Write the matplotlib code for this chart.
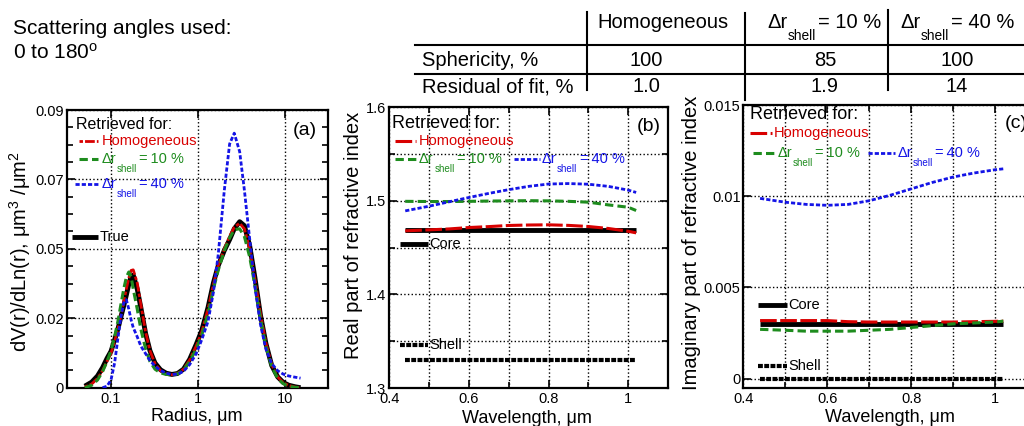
import numpy as np
import matplotlib
matplotlib.use("Agg")
import matplotlib.pyplot as plt
from matplotlib.lines import Line2D
from matplotlib.text import Annotation
from matplotlib.ticker import FixedLocator, MultipleLocator, NullLocator, FuncFormatter

plt.rcParams['font.family'] = ['Liberation Sans', 'DejaVu Sans']
plt.rcParams['mathtext.fontset'] = 'custom'
plt.rcParams['mathtext.rm'] = 'Liberation Sans'
plt.rcParams['mathtext.it'] = 'Liberation Sans:italic'
plt.rcParams['mathtext.bf'] = 'Liberation Sans:bold'
plt.rcParams['lines.scale_dashes'] = False

# ---------------- data ----------------
radius = [0.05, 0.06, 0.07, 0.08, 0.09, 0.1, 0.11, 0.12, 0.13, 0.14, 0.15, 0.16,
          0.17, 0.18, 0.2, 0.22, 0.25, 0.28, 0.32, 0.37, 0.43, 0.5, 0.58, 0.68,
          0.8, 0.95, 1.1, 1.3, 1.5, 1.7, 2.0, 2.3, 2.6, 3.0, 3.4, 3.9, 4.5, 5.2,
          6.0, 7.0, 8.2, 9.5, 11, 13, 15]
psd_true = [0.0005, 0.0018, 0.0038, 0.0065, 0.0095, 0.0118, 0.0155, 0.019, 0.023,
            0.0265, 0.030, 0.0335, 0.036, 0.0365, 0.032, 0.026, 0.0175, 0.012,
            0.008, 0.0058, 0.0047, 0.0043, 0.0046, 0.006, 0.0092, 0.014, 0.0185,
            0.026, 0.034, 0.0395, 0.0445, 0.048, 0.0515, 0.0538, 0.0525, 0.0462,
            0.0355, 0.0235, 0.0144, 0.0072, 0.0035, 0.0017, 0.0008, 0.0003, 0.0]
psd_hom = [0.0002, 0.0012, 0.003, 0.0055, 0.0085, 0.0112, 0.015, 0.019, 0.0235,
           0.028, 0.032, 0.0355, 0.038, 0.0382, 0.034, 0.027, 0.018, 0.012,
           0.0078, 0.0055, 0.0045, 0.0042, 0.0046, 0.006, 0.009, 0.0135, 0.018,
           0.0255, 0.0335, 0.0395, 0.045, 0.049, 0.052, 0.0533, 0.0515, 0.045,
           0.035, 0.024, 0.0145, 0.0075, 0.0035, 0.0016, 0.0007, 0.0002, 0.0]
psd_10 = [0.0, 0.0008, 0.0025, 0.0052, 0.0085, 0.012, 0.0165, 0.0215, 0.027,
          0.032, 0.0358, 0.0375, 0.036, 0.032, 0.0255, 0.019, 0.0125, 0.0085,
          0.006, 0.0048, 0.0043, 0.0042, 0.0045, 0.0057, 0.0085, 0.0125, 0.017,
          0.024, 0.032, 0.038, 0.0445, 0.0485, 0.0512, 0.0515, 0.049, 0.0425,
          0.033, 0.0225, 0.0135, 0.0068, 0.003, 0.0013, 0.0005, 0.0001, 0.0]
psd_40 = [np.nan, np.nan, np.nan, 0.0, 0.0005, 0.0025, 0.008, 0.016, 0.023, 0.0275,
          0.0285, 0.0255, 0.022, 0.0195, 0.0165, 0.0135, 0.011, 0.0088, 0.007,
          0.0056, 0.0047, 0.0043, 0.0044, 0.0053, 0.0075, 0.011, 0.0155, 0.0215,
          0.031, 0.043, 0.064, 0.079, 0.0825, 0.0765, 0.064, 0.0485, 0.0325,
          0.0205, 0.0125, 0.0078, 0.0055, 0.0044, 0.0038, 0.0034, 0.0031]

wavelength = [0.44, 0.5, 0.55, 0.6, 0.65, 0.7, 0.75, 0.8, 0.85, 0.9, 0.95, 1.0, 1.02]
wl_ends = [0.44, 1.02]
n_core = [1.469, 1.469]
n_shell = [1.33, 1.33]
n_hom = [1.468, 1.469, 1.470, 1.4715, 1.4725, 1.4737, 1.4742, 1.4744, 1.4738,
         1.4726, 1.4705, 1.4675, 1.4658]
n_10 = [1.4995, 1.4993, 1.4993, 1.4995, 1.4998, 1.500, 1.5002, 1.500, 1.4995,
        1.4986, 1.4957, 1.4932, 1.4897]
n_40 = [1.4893, 1.4943, 1.499, 1.5036, 1.508, 1.512, 1.5155, 1.518, 1.5185,
        1.5178, 1.5155, 1.5115, 1.509]
k_core = [0.003, 0.003]
k_shell = [0.0, 0.0]
k_hom = [0.00318, 0.00318, 0.00318, 0.00318, 0.00312, 0.0031, 0.0031, 0.0031,
         0.0031, 0.0031, 0.00312, 0.00314, 0.00315]
k_10 = [0.0027, 0.00265, 0.0026, 0.0026, 0.0026, 0.00265, 0.0027, 0.0028,
        0.0029, 0.003, 0.00305, 0.0031, 0.00315]
k_40 = [0.00988, 0.00967, 0.00955, 0.0095, 0.00955, 0.00975, 0.01005, 0.0104,
        0.01075, 0.01105, 0.01127, 0.01145, 0.0115]

shell_pct = ['10 %', '40 %']
row_labels = ['Sphericity, %', 'Residual of fit, %']
sphericity = ['100', '85', '100']
residual = ['1.0', '1.9', '14']

RED = '#d80000'
GREEN = '#1e8c1e'
BLUE = '#1414e6'

sty_true = dict(color='k', lw=3.5, ls='-', solid_capstyle='butt')
sty_shell = dict(color='k', lw=3.0, ls=(0, (3.5, 1.0)))
sty_hom_a = dict(color=RED, lw=2.0, ls=(0, (2.5, 1.5, 7, 1.5)))
sty_hom = dict(color=RED, lw=2.2, ls=(0, (12, 2.5)))
sty_10 = dict(color=GREEN, lw=2.2, ls=(0, (6, 3)))
sty_40 = dict(color=BLUE, lw=2.0, ls=(0, (3, 1.5)))

W, H = 1024, 426
fig = plt.figure(figsize=(W / 100, H / 100), dpi=100)


def ax_rect(left, top, right, bottom):
    return [left / W, 1 - bottom / H, (right - left) / W, (bottom - top) / H]


def dr_shell(x, y, pct, fs, color, transform, eq='='):
    # "Δr" + lowered "shell" + "= xx %", chained so the pieces follow each other
    t1 = fig.text(x, y, 'Δr', transform=transform, fontsize=fs, color=color,
                  va='center', ha='left')
    t2 = Annotation('shell', xy=(1, 0), xycoords=t1, xytext=(0.5, 1.5),
                    textcoords='offset points', fontsize=fs * 0.68, color=color,
                    va='top', ha='left')
    fig.add_artist(t2)
    t3 = Annotation(eq + pct, xy=(1, 0.5), xycoords=(t2, t1), xytext=(1.5, 0),
                    textcoords='offset points', fontsize=fs, color=color,
                    va='center', ha='left')
    fig.add_artist(t3)


def key(ax, x0, x1, y, sty, label, tx, color, fs=10.5, pct=None):
    ax.add_line(Line2D([x0, x1], [y, y], transform=ax.transAxes, clip_on=False, **sty))
    if pct is None:
        ax.text(tx, y, label, transform=ax.transAxes, color=color, fontsize=fs,
                va='center', ha='left')
    else:
        dr_shell(tx, y, pct, fs, color, ax.transAxes, eq='=\u2009')


def style_axes(ax):
    for s in ax.spines.values():
        s.set_linewidth(1.6)
    ax.tick_params(which='both', direction='in', top=True, right=True,
                   labelsize=10.5, width=1.2)
    ax.tick_params(which='major', length=6, pad=3)
    ax.tick_params(which='minor', length=4)
    ax.tick_params(axis='y', which='major', pad=2)


def place_labels(ax, xl, yl, xpos, ypos, ylsize=14.5):
    ax.set_xlabel(xl, fontsize=13)
    ax.set_ylabel(yl, fontsize=ylsize)
    ax.xaxis.label.set_va('center')
    ax.yaxis.label.set_va('center')
    ax.yaxis.label.set_ha('center')
    ax.xaxis.set_label_coords(*xpos)
    ax.yaxis.set_label_coords(*ypos)


fmt = FuncFormatter(lambda v, p: '%g' % round(v, 4))

# ---------------- (a) size distribution ----------------
ax1 = fig.add_axes(ax_rect(66.7, 110, 328, 387.7))
ax1.plot(radius, psd_true, **sty_true, zorder=3)
ax1.plot(radius, psd_hom, **sty_hom_a, zorder=4)
ax1.plot(radius, psd_10, **sty_10, zorder=5)
ax1.plot(radius, psd_40, **sty_40, zorder=6)
ax1.set_xscale('log')
ax1.set_xlim(0.031, 31)
ax1.set_ylim(0, 0.09)
ax1.xaxis.set_major_locator(FixedLocator([0.1, 1, 10]))
ax1.xaxis.set_minor_locator(NullLocator())
ax1.set_xticklabels(['0.1', '1', '10'])
ax1.yaxis.set_major_locator(FixedLocator([0, 0.0225, 0.045, 0.0675, 0.09]))
ax1.set_yticklabels(['0', '0.02', '0.05', '0.07', '0.09'])
ax1.yaxis.set_minor_locator(MultipleLocator(0.005625))
ax1.grid(True, which='major', ls=':', color='k', lw=1.0)
style_axes(ax1)
place_labels(ax1, 'Radius, μm', r'dV(r)/dLn(r), μm$^3$ /μm$^2$',
             (0.4975, -0.105), (-0.179, 0.49))
ax1.text(0.036, 0.946, 'Retrieved for:', transform=ax1.transAxes, fontsize=11.5,
         va='center')
key(ax1, 0.048, 0.121, 0.889, sty_hom_a, 'Homogeneous', 0.134, RED)
key(ax1, 0.048, 0.121, 0.822, sty_10, None, 0.134, GREEN, pct=shell_pct[0])
key(ax1, 0.031, 0.121, 0.732, sty_40, None, 0.134, BLUE, pct=shell_pct[1])
key(ax1, 0.019, 0.121, 0.544, sty_true, 'True', 0.125, 'k')
ax1.text(0.957, 0.925, '(a)', transform=ax1.transAxes, fontsize=14,
         ha='right', va='center')

# ---------------- (b) real part ----------------
ax2 = fig.add_axes(ax_rect(389.3, 107.3, 668, 388))
ax2.plot(wl_ends, n_shell, **sty_shell, zorder=3)
ax2.plot(wl_ends, n_core, **sty_true, zorder=3)
ax2.plot(wavelength, n_hom, **sty_hom, zorder=4)
ax2.plot(wavelength, n_10, **sty_10, zorder=5)
ax2.plot(wavelength, n_40, **sty_40, zorder=6)
ax2.set_xlim(0.4, 1.1)
ax2.set_ylim(1.3, 1.6)
ax2.xaxis.set_major_locator(MultipleLocator(0.2))
ax2.xaxis.set_minor_locator(MultipleLocator(0.1))
ax2.xaxis.set_major_formatter(fmt)
ax2.yaxis.set_major_locator(MultipleLocator(0.1))
ax2.yaxis.set_minor_locator(MultipleLocator(0.05))
ax2.yaxis.set_major_formatter(fmt)
ax2.grid(True, which='both', ls=':', color='k', lw=1.0)
style_axes(ax2)
place_labels(ax2, 'Wavelength, μm', 'Real part of refractive index',
             (0.493, -0.107), (-0.13, 0.545))
ax2.text(0.009, 0.943, 'Retrieved for:', transform=ax2.transAxes, fontsize=13,
         va='center')
key(ax2, 0.020, 0.096, 0.881, sty_hom, 'Homogeneous', 0.104, RED)
key(ax2, 0.020, 0.098, 0.815, sty_10, None, 0.107, GREEN, pct=shell_pct[0])
key(ax2, 0.446, 0.541, 0.815, sty_40, None, 0.547, BLUE, pct=shell_pct[1])
key(ax2, 0.038, 0.140, 0.513, sty_true, 'Core', 0.144, 'k')
key(ax2, 0.038, 0.140, 0.153, sty_shell, 'Shell', 0.144, 'k')
ax2.text(0.974, 0.933, '(b)', transform=ax2.transAxes, fontsize=14,
         ha='right', va='center')

# ---------------- (c) imaginary part ----------------
ax3 = fig.add_axes(ax_rect(743.3, 105, 743.3 + 293.6, 387.7))
ax3.plot(wl_ends, k_shell, **sty_shell, zorder=3)
ax3.plot(wl_ends, k_core, **sty_true, zorder=3)
ax3.plot(wavelength, k_hom, **sty_hom, zorder=4)
ax3.plot(wavelength, k_10, **sty_10, zorder=5)
ax3.plot(wavelength, k_40, **sty_40, zorder=6)
ax3.set_xlim(0.4, 1.1)
ax3.set_ylim(-0.0005, 0.015)
ax3.xaxis.set_major_locator(MultipleLocator(0.2))
ax3.xaxis.set_minor_locator(MultipleLocator(0.1))
ax3.xaxis.set_major_formatter(fmt)
ax3.yaxis.set_major_locator(FixedLocator([0, 0.005, 0.01, 0.015]))
ax3.yaxis.set_major_formatter(fmt)
ax3.grid(True, which='both', ls=':', color='k', lw=1.0)
style_axes(ax3)
place_labels(ax3, 'Wavelength, μm', 'Imaginary part of refractive index',
             (0.501, -0.107), (-0.175, 0.514))
ax3.text(0.023, 0.965, 'Retrieved for:', transform=ax3.transAxes, fontsize=13,
         va='center')
key(ax3, 0.023, 0.097, 0.900, sty_hom, 'Homogeneous', 0.105, RED)
key(ax3, 0.034, 0.108, 0.831, sty_10, None, 0.116, GREEN, pct=shell_pct[0])
key(ax3, 0.426, 0.517, 0.831, sty_40, None, 0.525, BLUE, pct=shell_pct[1])
key(ax3, 0.051, 0.148, 0.293, sty_true, 'Core', 0.153, 'k')
key(ax3, 0.051, 0.148, 0.077, sty_shell, 'Shell', 0.153, 'k')
ax3.text(0.891, 0.935, '(c)', transform=ax3.transAxes, fontsize=14,
         ha='left', va='center')

# ---------------- annotation and table ----------------
fig.text(12.7 / W, 1 - 29 / H, 'Scattering angles used:', fontsize=15, va='center')
fig.text(12.7 / W, 1 - 53 / H, r'0 to 180$^{\rm o}$', fontsize=15, va='center')


def fline(x0, y0, x1, y1):
    fig.add_artist(Line2D([x0 / W, x1 / W], [1 - y0 / H, 1 - y1 / H], color='k',
                          lw=1.5, transform=fig.transFigure))


fline(415, 45, 1024, 45)
fline(415, 74, 1024, 74)
fline(587, 12, 587, 90)
fline(745, 13, 745, 100)
fline(888, 10, 888, 90)

TFS = 14.5
fig.text(597 / W, 1 - 22 / H, 'Homogeneous', fontsize=TFS, va='center')
dr_shell(767 / W, 1 - 22 / H, shell_pct[0], TFS, 'k', fig.transFigure, eq='= ')
dr_shell(900 / W, 1 - 22 / H, shell_pct[1], TFS, 'k', fig.transFigure, eq='= ')
row_y = [60, 87]
col_x = [646, 825, 957]
for label, vals, y in zip(row_labels, [sphericity, residual], row_y):
    fig.text(421.7 / W, 1 - y / H, label, fontsize=TFS, va='center')
    for v, x in zip(vals, col_x):
        fig.text(x / W, 1 - y / H, v, fontsize=TFS, va='center', ha='center')

fig.savefig('out.png', dpi=100)
